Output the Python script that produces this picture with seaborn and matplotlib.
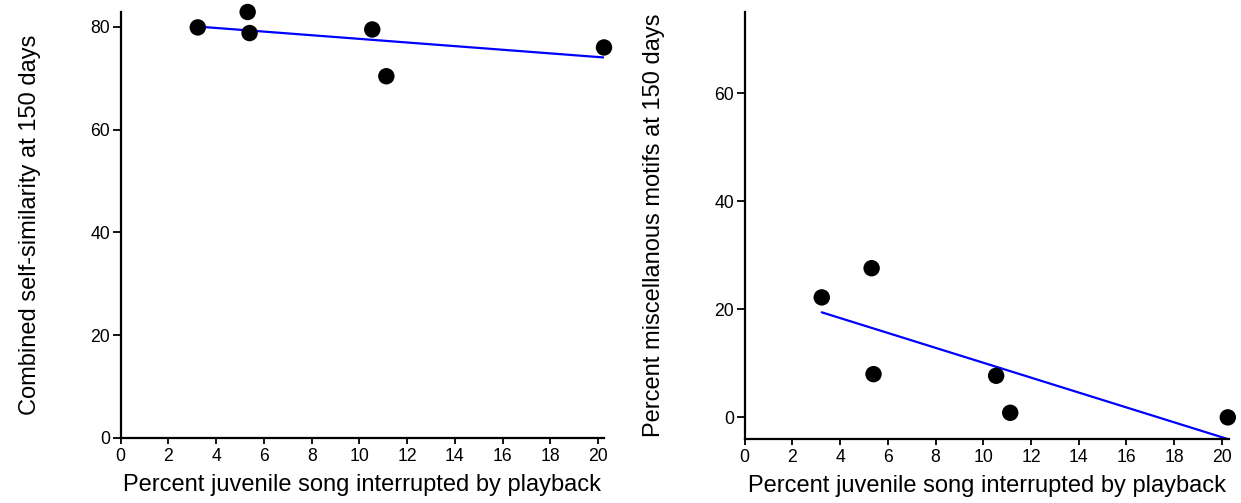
import matplotlib
matplotlib.use("Agg")
import matplotlib.pyplot as plt
import seaborn as sns
import pandas as pd

# Percent of juvenile song interrupted by playback, one value per bird
pct_interrupted = [3.23, 5.32, 5.40, 10.54, 11.13, 20.25]
# Combined self-similarity at 150 days
self_similarity = [79.9, 82.9, 78.8, 79.5, 70.4, 76.0]
# Percent miscellaneous motifs at 150 days
misc_motifs = [22.2, 27.6, 8.0, 7.7, 0.85, 0.0]

x_label = "Percent juvenile song interrupted by playback"
left_ylabel = "Combined self-similarity at 150 days"
right_ylabel = "Percent miscellanous motifs at 150 days"
x_ticks = [0, 2, 4, 6, 8, 10, 12, 14, 16, 18, 20]
left_yticks = [0, 20, 40, 60, 80]
right_yticks = [0, 20, 40, 60]

df = pd.DataFrame({"x": pct_interrupted, "sim": self_similarity, "misc": misc_motifs})

sns.set_theme(style="ticks")
plt.rcParams["font.family"] = ["Liberation Sans", "DejaVu Sans"]

W, H = 1241, 503
fig = plt.figure(figsize=(W / 100, H / 100), dpi=100)

def box(x0, x1, top, bottom):
    return [x0 / W, (H - bottom) / H, (x1 - x0) / W, (bottom - top) / H]

ax1 = fig.add_axes(box(120.7, 604, 12, 438))
ax2 = fig.add_axes(box(744.7, 1229, 12, 439))

scatter_kws = dict(s=140, color="black", edgecolor="none", alpha=1, zorder=3)
line_kws = dict(color="#0000ff", lw=1.6, zorder=2)

sns.regplot(data=df, x="x", y="sim", ax=ax1, ci=None,
            scatter_kws=scatter_kws, line_kws=line_kws)
sns.regplot(data=df, x="x", y="misc", ax=ax2, ci=None,
            scatter_kws=scatter_kws, line_kws=line_kws)

ax1.set_xlim(0, 20.25)
ax1.set_ylim(0, 82.9)
ax1.set_yticks(left_yticks)
ax2.set_xlim(0, 20.3)
ax2.set_ylim(-4.0, 75)
ax2.set_yticks(right_yticks)

for ax, yl in ((ax1, left_ylabel), (ax2, right_ylabel)):
    ax.set_xticks(x_ticks)
    ax.set_xlabel(x_label, fontsize=17, labelpad=6, color="black")
    ax.set_ylabel(yl, fontsize=17, labelpad=36, color="black")
    ax.tick_params(axis="both", labelsize=12.7, width=1.3,
                   direction="out", colors="black")
    ax.tick_params(axis="x", length=4.5, pad=3)
    ax.tick_params(axis="y", length=6, pad=1.5)
    for side in ("top", "right"):
        ax.spines[side].set_visible(False)
    for side in ("left", "bottom"):
        ax.spines[side].set_linewidth(1.6)
        ax.spines[side].set_color("black")
    ax.set_facecolor("white")
    ax.patch.set_visible(False)
    for c in ax.collections:
        c.set_clip_on(False)

fig.savefig("out.png", dpi=100, facecolor="white")
